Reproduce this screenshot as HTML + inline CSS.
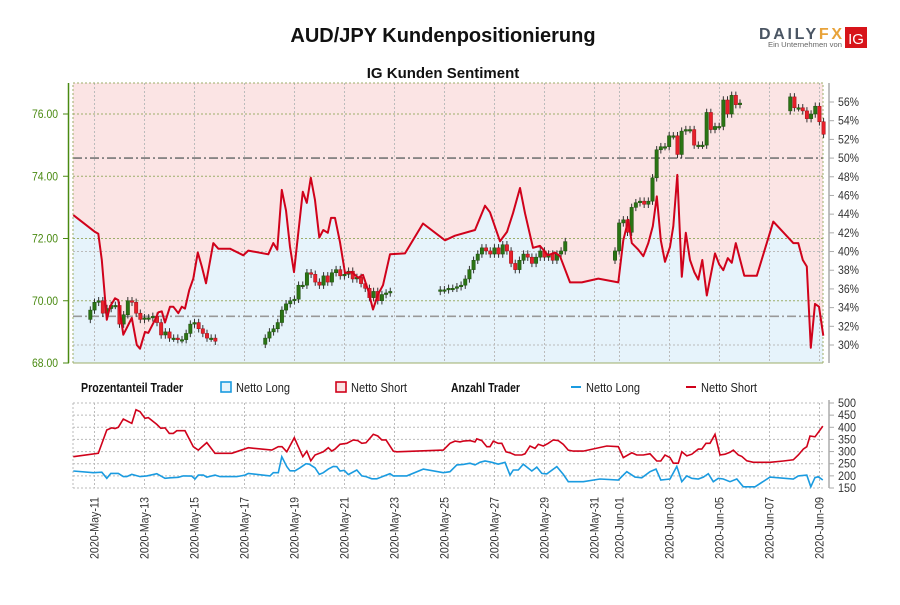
<!DOCTYPE html>
<html><head><meta charset="utf-8">
<style>
body{margin:0;background:#fff;width:900px;height:600px;overflow:hidden;font-family:"Liberation Sans",sans-serif}
svg text{font-family:"Liberation Sans Narrow","Liberation Sans",sans-serif}
</style></head>
<body>
<svg id="chart" width="900" height="600" viewBox="0 0 900 600" xmlns="http://www.w3.org/2000/svg">
<text x="443" y="42" text-anchor="middle" font-size="20" font-weight="bold" style="font-family:'Liberation Sans',sans-serif" fill="#111">AUD/JPY Kundenpositionierung</text>
<g>
<text x="759" y="39" font-size="16" font-weight="bold" fill="#4a5563" textLength="83" lengthAdjust="spacing" style="font-family:'Liberation Sans',sans-serif">DAILY<tspan fill="#e8a33a">FX</tspan></text>
<text x="768" y="47" font-size="7" fill="#666" textLength="74" lengthAdjust="spacingAndGlyphs">Ein Unternehmen von</text>
<rect x="845" y="27" width="22" height="21" fill="#d7141a"/>
<text x="856" y="44" font-size="15" fill="#fff" text-anchor="middle" style="font-family:'Liberation Sans',sans-serif">IG</text>
</g>
<text x="443" y="78" text-anchor="middle" font-size="15" font-weight="bold" style="font-family:'Liberation Sans',sans-serif" fill="#111">IG Kunden Sentiment</text>
<g id="main"></g>
<g id="legend">
<text x="81" y="392" font-size="12.5" font-weight="bold" fill="#111" textLength="102" lengthAdjust="spacingAndGlyphs">Prozentanteil Trader</text>
<rect x="221" y="382" width="10" height="10" fill="#e6f3fb" stroke="#1a9be0" stroke-width="1.6"/>
<text x="236" y="392" font-size="12.5" fill="#222" textLength="54" lengthAdjust="spacingAndGlyphs">Netto Long</text>
<rect x="336" y="382" width="10" height="10" fill="#fbe3e3" stroke="#d0021b" stroke-width="1.6"/>
<text x="351" y="392" font-size="12.5" fill="#222" textLength="56" lengthAdjust="spacingAndGlyphs">Netto Short</text>
<text x="451" y="392" font-size="12.5" font-weight="bold" fill="#111" textLength="69" lengthAdjust="spacingAndGlyphs">Anzahl Trader</text>
<line x1="571" y1="387" x2="581" y2="387" stroke="#1a9be0" stroke-width="2"/>
<text x="586" y="392" font-size="12.5" fill="#222" textLength="54" lengthAdjust="spacingAndGlyphs">Netto Long</text>
<line x1="686" y1="387" x2="696" y2="387" stroke="#d0021b" stroke-width="2"/>
<text x="701" y="392" font-size="12.5" fill="#222" textLength="56" lengthAdjust="spacingAndGlyphs">Netto Short</text>
</g>
<g id="lower"></g>
<g id="xaxis"></g>
</svg>
<script>
// ---- data ----
const dateLabels=["2020-May-11","2020-May-13","2020-May-15","2020-May-17","2020-May-19","2020-May-21","2020-May-23","2020-May-25","2020-May-27","2020-May-29","2020-May-31","2020-Jun-01","2020-Jun-03","2020-Jun-05","2020-Jun-07","2020-Jun-09"];
const dateDays=[0,2,4,6,8,10,12,14,16,18,20,21,23,25,27,29];
const priceTicks=[68,70,72,74,76];
const pctTicks=[30,32,34,36,38,40,42,44,46,48,50,52,54,56];
const countTicks=[150,200,250,300,350,400,450,500];
const sentDays=[-0.85,0.02,0.15,0.29,0.49,0.62,0.82,0.95,1.15,1.49,1.69,1.82,2.02,2.15,2.42,2.55,2.69,2.82,3.02,3.15,3.35,3.49,3.62,3.79,3.95,4.13,4.29,4.46,4.75,4.95,5.42,5.95,6.15,6.95,7.15,7.31,7.49,7.66,7.82,7.98,8.33,8.49,8.65,8.82,8.99,9.15,9.33,9.46,9.62,9.82,10.02,10.30,10.54,10.74,10.94,11.14,11.34,11.54,11.82,12.42,13.14,14.02,14.42,15.22,15.62,15.82,16.22,16.50,16.74,17.02,17.22,17.54,17.82,18.14,18.42,18.62,19.02,19.49,20.15,20.95,21.15,21.35,21.49,21.75,21.95,22.15,22.33,22.49,22.65,22.82,23.02,23.15,23.31,23.49,23.65,23.82,23.99,24.15,24.31,24.49,24.82,24.99,25.15,25.33,25.49,25.65,25.99,26.49,27.15,27.95,28.15,28.33,28.49,28.65,28.82,28.98,29.15];
const sentPct=[43.9,42.1,41.9,39.1,32.7,34.1,35.0,34.8,31.1,32.9,30.0,29.6,31.4,31.3,32.7,33.5,33.6,32.4,34.1,34.1,33.4,34.1,33.9,35.9,37.1,39.9,38.4,36.6,40.9,40.3,40.3,39.6,40.1,39.7,40.9,40.2,46.6,44.4,40.5,37.8,46.4,45.2,47.9,45.5,41.5,42.3,42.0,43.6,43.6,41.0,37.7,37.8,37.2,37.5,35.9,33.8,35.4,36.4,39.7,39.8,43.0,41.2,41.7,42.3,44.9,44.2,41.1,42.1,44.1,46.8,44.1,40.4,40.6,39.6,39.9,39.5,36.7,36.7,37.1,36.7,41.2,43.4,40.9,40.2,39.5,40.9,42.7,45.9,41.2,38.9,40.5,42.7,48.2,37.3,42.0,39.1,37.8,37.0,39.1,35.3,39.8,38.6,38.0,39.3,38.8,40.9,37.4,37.4,43.2,40.9,40.9,39.1,38.4,29.7,34.4,34.1,31.0];
const segStart=[-0.167,6.83,13.83,20.82,27.83];
const segOpen=[69.4,68.6,70.3,71.3,76.1];
const segCloses=[
[69.7,69.95,70.0,69.6,69.75,69.85,69.85,69.25,69.55,70.0,69.95,69.6,69.4,69.45,69.45,69.5,69.3,68.9,69.0,68.8,68.8,68.75,68.75,68.95,69.25,69.3,69.1,68.95,68.8,68.8,68.7],
[68.8,69.0,69.1,69.3,69.7,69.9,70.0,70.05,70.5,70.5,70.9,70.85,70.6,70.5,70.8,70.6,70.9,71.0,70.8,70.85,70.95,70.7,70.75,70.55,70.4,70.1,70.3,70.0,70.2,70.25,70.3],
[70.35,70.35,70.4,70.4,70.45,70.5,70.7,71.0,71.3,71.5,71.7,71.6,71.5,71.7,71.5,71.8,71.6,71.2,71.0,71.3,71.5,71.4,71.2,71.4,71.6,71.4,71.5,71.3,71.5,71.6,71.9],
[71.6,72.5,72.6,72.2,73.0,73.15,73.2,73.1,73.2,73.95,74.85,74.95,74.95,75.3,75.3,74.7,75.45,75.5,75.5,75.0,75.0,75.0,76.05,75.5,75.6,75.6,76.45,76.0,76.6,76.3,76.35],
[76.55,76.2,76.2,76.1,75.85,76.0,76.25,75.75,75.35]];
const shortDays=[-0.85,0.15,0.49,0.69,0.82,0.95,1.15,1.49,1.66,1.82,2.02,2.15,2.49,2.65,2.82,2.99,3.15,3.29,3.62,3.95,4.15,4.49,4.82,5.49,6.15,7.09,7.35,7.50,7.69,7.99,8.33,8.49,8.65,8.82,9.15,9.35,9.49,9.62,9.82,10.09,10.35,10.53,10.69,10.86,11.15,11.33,11.49,11.66,11.95,12.09,13.95,14.22,14.42,14.62,14.75,15.02,15.22,15.29,15.49,15.69,15.82,15.95,16.15,16.29,16.46,16.62,16.82,17.09,17.22,17.42,17.62,17.75,17.95,18.15,18.35,18.55,18.75,18.95,19.15,19.55,20.49,20.95,21.15,21.49,21.69,21.95,22.22,22.49,22.65,22.82,23.02,23.15,23.35,23.49,23.69,23.89,24.15,24.29,24.46,24.62,24.82,25.02,25.22,25.42,25.55,25.75,25.89,26.09,26.35,27.02,27.55,27.95,28.15,28.35,28.49,28.62,28.82,28.95,29.13];
const shortCount=[279,293,389,398,395,400,434,416,472,464,437,440,412,396,398,375,375,386,386,320,306,337,293,293,316,306,320,320,299,357,279,302,262,286,299,316,302,310,330,334,348,345,334,336,371,364,348,348,302,299,306,334,343,340,343,345,340,352,345,320,320,343,334,334,299,295,286,286,291,323,313,330,323,334,348,345,330,306,302,302,323,320,275,295,286,286,291,261,261,286,275,252,252,299,282,289,310,310,334,334,371,286,289,297,306,286,280,262,256,256,261,266,286,310,320,364,361,379,405];
const longDays=[-0.85,-0.05,0.29,0.49,0.65,0.95,1.15,1.29,1.49,1.82,2.09,2.49,2.82,3.02,3.35,3.55,3.89,4.02,4.15,4.35,4.49,4.82,5.02,5.69,6.02,6.15,7.02,7.15,7.35,7.49,7.69,7.82,8.02,8.22,8.46,8.59,8.82,8.99,9.15,9.35,9.55,9.69,9.82,9.99,10.15,10.49,10.69,10.86,11.09,11.29,11.55,11.82,11.95,12.49,13.15,13.95,14.22,14.49,14.75,15.02,15.22,15.42,15.62,15.89,16.15,16.42,16.62,16.75,16.95,17.15,17.49,17.69,17.89,18.09,18.49,18.75,18.95,19.55,20.22,20.95,21.29,21.62,21.89,22.22,22.46,22.65,23.02,23.29,23.49,23.69,23.89,24.15,24.35,24.55,24.75,24.95,25.15,25.42,25.69,25.95,26.42,27.02,27.95,28.15,28.49,28.65,28.82,28.95,29.13];
const longCount=[220,213,215,190,210,210,197,197,206,197,200,209,190,192,194,200,199,187,203,203,195,203,197,197,203,210,200,213,213,279,238,221,221,233,250,248,233,206,213,228,239,238,220,223,205,224,200,197,188,188,198,209,200,200,228,213,217,245,247,252,245,256,261,256,248,256,203,224,224,248,220,236,210,208,238,206,176,176,187,183,217,195,192,217,228,183,187,239,176,200,190,187,195,209,176,190,187,176,187,155,155,195,187,200,203,155,193,196,183];

// ---- scales ----
const L=73,R=823,T=83,B=363,LT=403,LB=488;
const X=d=>94.5+25*d;
const YP=p=>363-(p-68)*31.125;
const YS=s=>345-(s-30)*9.346;
const YC=v=>488-(v-150)*(85/350);
const NS="http://www.w3.org/2000/svg";
function mk(tag,attrs,parent){const e=document.createElementNS(NS,tag);for(const k in attrs)e.setAttribute(k,attrs[k]);parent.appendChild(e);return e;}
const main=document.getElementById('main'),lower=document.getElementById('lower'),xa=document.getElementById('xaxis');

let bg=mk('rect',{x:L,y:T,width:R-L,height:B-T,fill:'#fbe4e4'},main);


let pts=sentDays.map((d,i)=>X(d).toFixed(1)+','+YS(sentPct[i]).toFixed(1));
let area=mk('polygon',{fill:'#e6f3fb'},main);
area.setAttribute('points',L+','+B+' '+L+','+YS(sentPct[0]).toFixed(1)+' '+pts.join(' ')+' '+R+','+YS(sentPct[sentPct.length-1]).toFixed(1)+' '+R+','+B);



dateDays.forEach(d=>{
 let g=mk('line',{x1:X(d),x2:X(d),y1:T,y2:B,stroke:'#bbb','stroke-dasharray':'2,2'},main);
 
 
 let g2=mk('line',{x1:X(d),x2:X(d),y1:LT,y2:LB,stroke:'#bbb','stroke-dasharray':'2,2'},lower);
 
 
});
priceTicks.forEach(p=>{
 let g=mk('line',{x1:L,x2:R,y1:YP(p),y2:YP(p),stroke:'#9cae6a','stroke-dasharray':'2,2'},main);
 
 
 let t=mk('text',{x:58,y:YP(p)+4,'text-anchor':'end','font-size':12,fill:'#4a8a12',textLength:26,lengthAdjust:'spacingAndGlyphs'},main);t.textContent=p.toFixed(2);
 
 
 let tk=mk('line',{x1:63,x2:69,y1:YP(p),y2:YP(p),stroke:'#4a8a12'},main);
 
 
});
[30,40].forEach(s=>{
 let g=mk('line',{x1:L,x2:R,y1:YS(s),y2:YS(s),stroke:'#bbb','stroke-dasharray':'2,2'},main);
 
 
});
[[YS(50),'#777'],[YP(69.5),'#999']].forEach(a=>{
 let g=mk('line',{x1:L,x2:R,y1:a[0],y2:a[0],stroke:a[1],'stroke-width':1.6,'stroke-dasharray':'9,3,2,3'},main);
 
 
});
let ax=mk('line',{x1:68.5,x2:68.5,y1:T,y2:B,stroke:'#4a8a12','stroke-width':1.5},main);


let rax=mk('line',{x1:829,x2:829,y1:T,y2:B,stroke:'#aaa','stroke-width':1.5},main);


let pb=mk('rect',{x:L,y:T,width:R-L,height:B-T,fill:'none',stroke:'#9cae6a','stroke-dasharray':'2,2'},main);


pctTicks.forEach(s=>{
 let tk=mk('line',{x1:829,x2:834,y1:YS(s),y2:YS(s),stroke:'#aaa'},main);
 
 
 let t=mk('text',{x:838,y:YS(s)+4,'font-size':12,fill:'#333',textLength:21,lengthAdjust:'spacingAndGlyphs'},main);t.textContent=s+'%';
 
 
});

segCloses.forEach((cl,si)=>{
 let o=segOpen[si];
 cl.forEach((c,i)=>{
  const x=X(segStart[si]+i/6);
  const hi=Math.max(o,c)+0.12,lo=Math.min(o,c)-0.12;
  const g=mk('g',{},main);
  
  
  mk('line',{x1:x,x2:x,y1:YP(hi),y2:YP(lo),stroke:'#333','stroke-width':1},g);
  const top=YP(Math.max(o,c)),h=Math.max(1.5,Math.abs(YP(o)-YP(c)));
  mk('rect',{x:x-1.7,y:top,width:3.4,height:h,fill:c>=o?'#2a7414':'#e8202a',stroke:c>=o?'#1d4d0d':'#a0101a','stroke-width':0.5},g);
  o=c;
 });
});

let sl=mk('polyline',{points:pts.join(' '),fill:'none',stroke:'#d0021b','stroke-width':2,'stroke-linejoin':'round'},main);



countTicks.forEach(v=>{
 let g=mk('line',{x1:L,x2:R,y1:YC(v),y2:YC(v),stroke:'#bbb','stroke-dasharray':'2,2'},lower);
 
 
 let tk=mk('line',{x1:829,x2:834,y1:YC(v),y2:YC(v),stroke:'#aaa'},lower);
 
 
 let t=mk('text',{x:838,y:YC(v)+4,'font-size':12,fill:'#333',textLength:18,lengthAdjust:'spacingAndGlyphs'},lower);t.textContent=v;
 
 
});
let bl=mk('line',{x1:L,x2:L,y1:LT,y2:LB,stroke:'#bbb','stroke-dasharray':'2,2'},lower);


let lax=mk('line',{x1:829,x2:829,y1:LT-3,y2:LB,stroke:'#aaa','stroke-width':1.5},lower);


let shl=mk('polyline',{points:shortDays.map((d,i)=>X(d).toFixed(1)+','+YC(shortCount[i]).toFixed(1)).join(' '),fill:'none',stroke:'#d0021b','stroke-width':1.6},lower);


let lol=mk('polyline',{points:longDays.map((d,i)=>X(d).toFixed(1)+','+YC(longCount[i]).toFixed(1)).join(' '),fill:'none',stroke:'#1a9be0','stroke-width':1.6},lower);



dateDays.forEach((d,i)=>{
 const x=X(d);
 let t=mk('text',{x:0,y:0,'text-anchor':'end','font-size':12,fill:'#333',textLength:62,lengthAdjust:'spacingAndGlyphs',transform:'translate('+(x+4)+',497) rotate(-90)'},xa);
 t.textContent=dateLabels[i];
 
 
});
</script>
</body></html>
